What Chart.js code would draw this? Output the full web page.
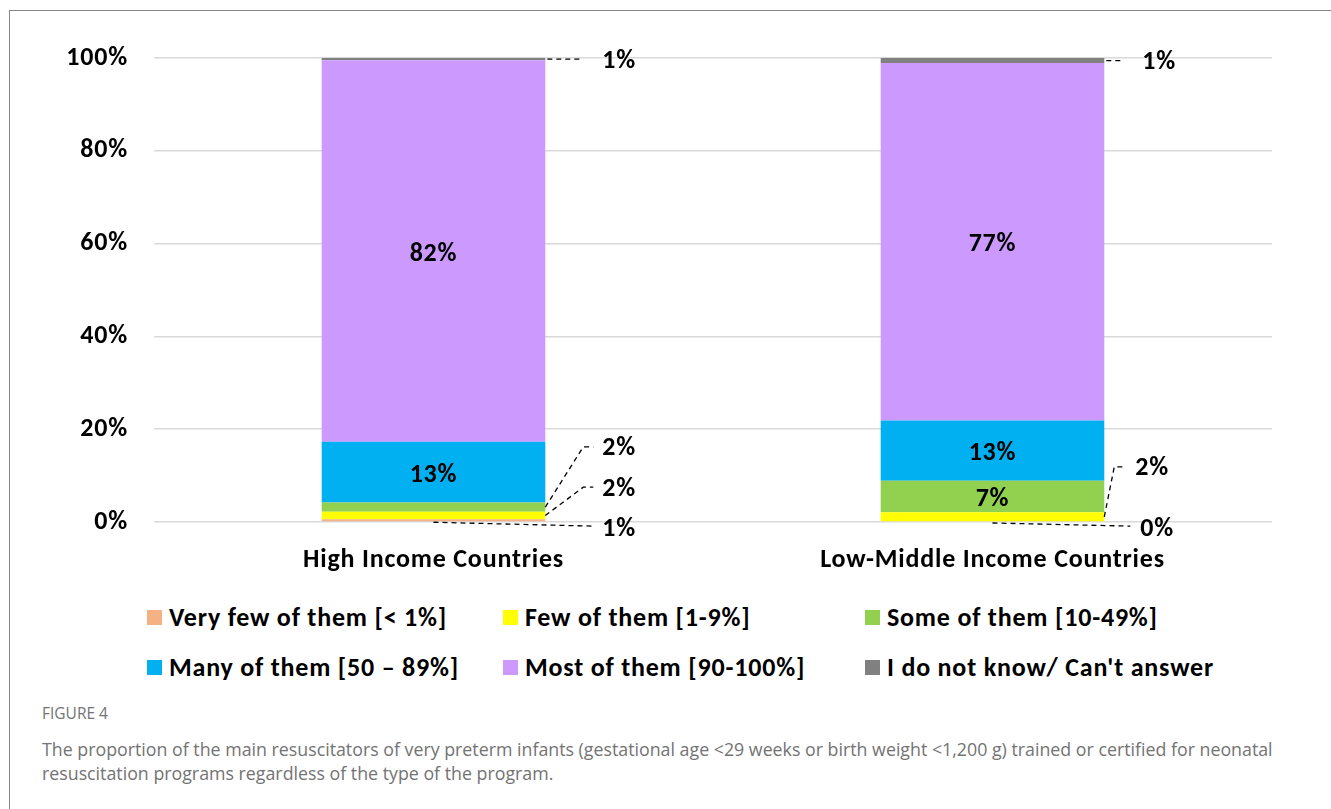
<!DOCTYPE html>
<html>
<head>
<meta charset="utf-8">
<script src="https://cdn.jsdelivr.net/npm/chart.js@4.4.1/dist/chart.umd.min.js"></script>
<style>
  body { margin: 0; background: #fff; width: 1331px; height: 809px; overflow: hidden; position: relative; }
  #frame { position: absolute; left: 9px; top: 10px; width: 1340px; height: 820px;
           border-top: 1px solid #858585; border-left: 1px solid #858585; }
  #chartCanvas { position: absolute; left: 10px; top: 11px; }
  #legend { position: absolute; left: 147px; top: 592px; display: grid;
            grid-template-columns: 356px 362px auto; grid-auto-rows: 50px;
            font-family: Carlito, Lato, sans-serif; font-weight: bold; font-size: 26px;
            letter-spacing: 0.8px; color: #000; }
  #legend .item { display: flex; align-items: center; white-space: nowrap; }
  #legend .box { width: 15px; height: 15px; margin-right: 7px; flex: none; }
  #figLabel { position: absolute; left: 42px; top: 702px; font-family: "Open Sans", sans-serif;
              font-size: 15.5px; color: #737373; }
  #caption { position: absolute; left: 42px; top: 737px; font-family: "Open Sans", sans-serif;
             font-size: 17.8px; line-height: 24px; color: #737373; white-space: nowrap; }
</style>
</head>
<body>
<div id="frame"></div>
<canvas id="chartCanvas" width="1321" height="580"></canvas>
<div id="legend"></div>
<div id="figLabel">FIGURE 4</div>
<div id="caption">The proportion of the main resuscitators of very preterm infants (gestational age &lt;29 weeks or birth weight &lt;1,200 g) trained or certified for neonatal<br>resuscitation programs regardless of the type of the program.</div>
<script>
const categories = ['High Income Countries', 'Low-Middle Income Countries'];
const seriesNames = ['Very few of them [< 1%]', 'Few of them [1-9%]', 'Some of them [10-49%]',
  'Many of them [50 \u2013 89%]', 'Most of them [90-100%]', "I do not know/ Can't answer"];
const seriesColors = ['#F4B183', '#FFFF00', '#92D050', '#00B0F0', '#CC99FF', '#808080'];

const veryFew  = [0.6, 0];
const few      = [1.6, 2.1];
const some     = [2.0, 6.8];
const many     = [13.1, 13.0];
const most     = [82.2, 77.0];
const dontKnow = [0.5, 1.1];

const yTicks = [0, 20, 40, 60, 80, 100];

const FONT = 'Carlito, Lato, sans-serif';
const series = [veryFew, few, some, many, most, dontKnow];

// small segments get a dashed leader line and an outside label
// from: where the line starts on the bar, dx: label offset from bar right edge,
// labelV: label height in axis units (null = segment centre), elbow: bend offset
const callouts = [
  { ds: 5, i: 0, from: 'right', dx: 57, labelV: null },
  { ds: 2, i: 0, from: 'right', dx: 57, labelV: 16.2, elbow: 38 },
  { ds: 1, i: 0, from: 'right', dx: 57, labelV: 7.5, elbow: 38 },
  { ds: 0, i: 0, from: 'center', dx: 57, labelV: -1.1 },
  { ds: 5, i: 1, from: 'right', dx: 38, labelV: null },
  { ds: 1, i: 1, from: 'right', dx: 31, labelV: 11.9, elbow: 10 },
  { ds: 0, i: 1, from: 'center', dx: 36, labelV: -1.1 }
];

// canvas state gets reset when the canvas is sized, so set spacing before each pass
const spacing = {
  id: 'spacing',
  beforeLayout(chart) { chart.ctx.letterSpacing = '0.8px'; },
  beforeDraw(chart) { chart.ctx.letterSpacing = '0.8px'; }
};

const segmentLabels = {
  id: 'segmentLabels',
  afterDatasetsDraw(chart) {
    const ctx = chart.ctx;
    const y = chart.scales.y;
    ctx.save();
    ctx.letterSpacing = '0.8px';
    ctx.fillStyle = '#000';
    ctx.font = 'bold 26px ' + FONT;
    ctx.textBaseline = 'middle';

    const isCallout = (ds, i) => callouts.some(c => c.ds === ds && c.i === i);

    // labels inside the bars
    ctx.textAlign = 'center';
    chart.data.datasets.forEach((d, ds) => {
      chart.getDatasetMeta(ds).data.forEach((el, i) => {
        if (isCallout(ds, i)) return;
        if (Math.abs(el.base - el.y) < 20) return;
        ctx.fillText(Math.round(d.data[i]) + '%', el.x, (el.y + el.base) / 2 + 3);
      });
    });

    // outside labels with dashed leaders
    ctx.textAlign = 'left';
    ctx.strokeStyle = '#000';
    ctx.lineWidth = 1.3;
    ctx.setLineDash([5, 4]);
    callouts.forEach(c => {
      const el = chart.getDatasetMeta(c.ds).data[c.i];
      const val = chart.data.datasets[c.ds].data[c.i];
      const right = el.x + el.width / 2;
      const mid = (el.y + el.base) / 2;
      const lx = right + c.dx;
      const ly = c.labelV === null ? mid : y.getPixelForValue(c.labelV);
      ctx.beginPath();
      if (c.from === 'center') {
        ctx.moveTo(el.x, el.base + 1);
        ctx.lineTo(lx - 10, ly - 1);
      } else if (c.elbow) {
        ctx.moveTo(right, mid);
        ctx.lineTo(right + c.elbow, ly);
        ctx.lineTo(lx - 9, ly);
      } else {
        ctx.moveTo(right + 2, mid);
        ctx.lineTo(lx - 22, mid);
      }
      ctx.stroke();
      ctx.fillText(Math.round(val) + '%', lx, ly + 2);
    });
    ctx.restore();
  }
};

const chart = new Chart(document.getElementById('chartCanvas'), {
  type: 'bar',
  data: {
    labels: categories,
    datasets: series.map((vals, k) => ({
      label: seriesNames[k],
      data: vals,
      backgroundColor: seriesColors[k],
      borderWidth: 0,
      barPercentage: 0.4,
      categoryPercentage: 1
    }))
  },
  options: {
    responsive: false,
    animation: false,
    layout: { padding: { top: 47, right: 59, left: 0, bottom: 0 } },
    plugins: { legend: { display: false }, tooltip: { enabled: false } },
    scales: {
      x: {
        stacked: true,
        grid: { display: false },
        border: { display: false },
        ticks: { color: '#000', font: { family: FONT, size: 26, weight: 'bold' }, padding: 15 },
        afterFit: s => { s.height = 69; }
      },
      y: {
        stacked: true,
        min: 0,
        max: 100,
        afterBuildTicks: s => { s.ticks = yTicks.map(v => ({ value: v })); },
        grid: { color: '#d9d9d9', lineWidth: 1.5, drawTicks: false },
        border: { display: false },
        ticks: {
          color: '#000',
          padding: 26,
          font: { family: FONT, size: 26, weight: 'bold' },
          callback: v => v + '%'
        },
        afterFit: s => { s.width = 144; }
      }
    }
  },
  plugins: [spacing, segmentLabels]
});

// legend laid out as a 3-column grid like the original
const legend = document.getElementById('legend');
seriesNames.forEach((name, k) => {
  const item = document.createElement('div');
  item.className = 'item';
  const box = document.createElement('span');
  box.className = 'box';
  box.style.background = seriesColors[k];
  item.appendChild(box);
  item.appendChild(document.createTextNode(name));
  legend.appendChild(item);
});
</script>
</body>
</html>
